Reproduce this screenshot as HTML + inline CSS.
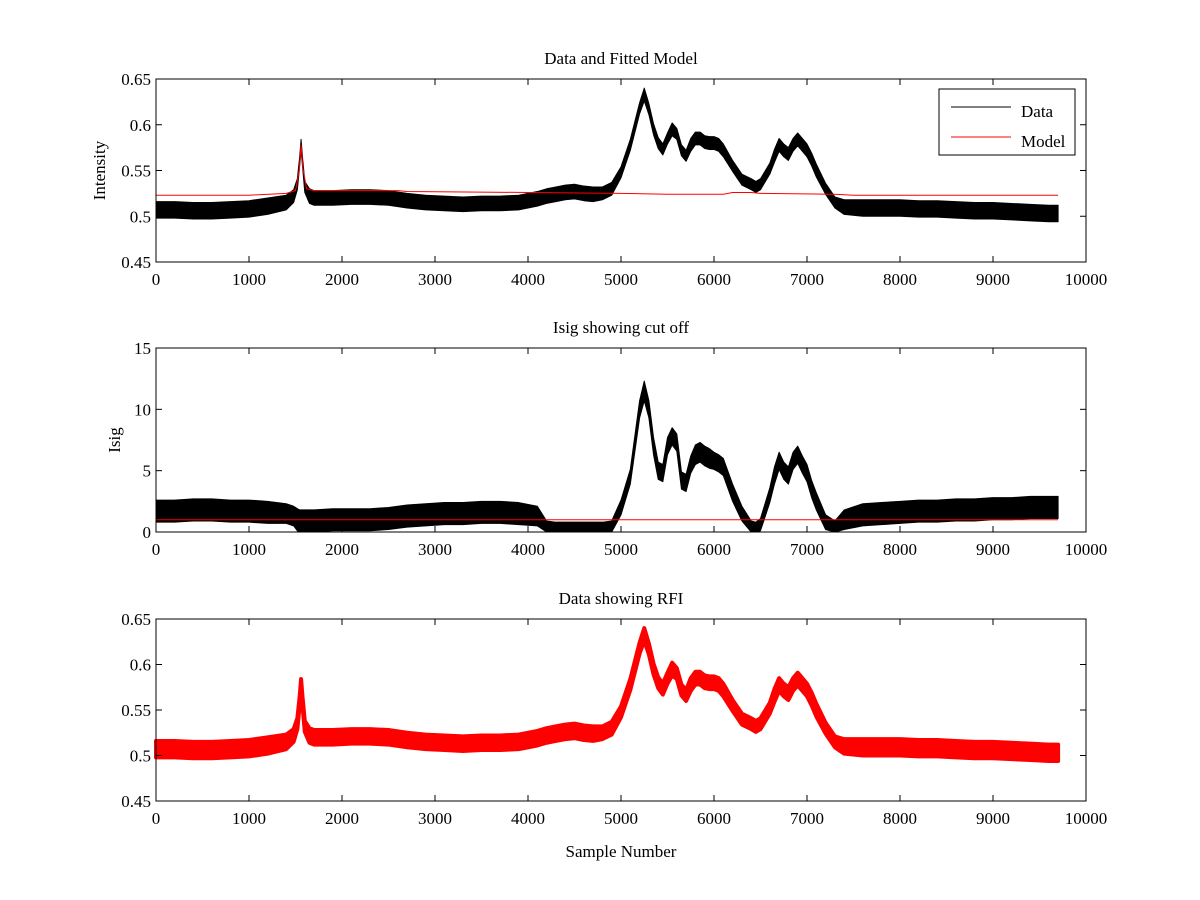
<!DOCTYPE html>
<html><head><meta charset="utf-8"><style>
body{margin:0;background:#fff;}
svg{display:block;font-family:"Liberation Serif",serif;}
</style></head><body>
<svg id="fig" width="1200" height="900"></svg>
<script>
// Data: sample positions, smoothed centre values and noise half-widths
const sampleX = [0,200,400,600,800,1000,1200,1400,1480,1520,1545,1560,1575,1600,1650,1700,1900,2100,2300,2500,2700,2900,3100,3300,3500,3700,3900,4100,4200,4300,4400,4500,4600,4700,4800,4900,5000,5100,5200,5250,5300,5350,5400,5450,5500,5550,5600,5650,5700,5750,5800,5850,5900,5950,6000,6050,6100,6200,6300,6400,6450,6500,6600,6650,6700,6750,6800,6850,6900,6950,7000,7050,7100,7200,7300,7400,7600,7800,8000,8200,8400,8600,8800,9000,9200,9400,9600,9700];
const intensity = [0.507,0.507,0.506,0.506,0.507,0.508,0.511,0.515,0.522,0.535,0.560,0.578,0.560,0.532,0.522,0.520,0.520,0.521,0.521,0.520,0.517,0.515,0.514,0.513,0.514,0.514,0.515,0.519,0.522,0.524,0.526,0.527,0.525,0.524,0.525,0.530,0.548,0.578,0.618,0.633,0.617,0.595,0.580,0.573,0.585,0.595,0.590,0.572,0.566,0.578,0.585,0.585,0.581,0.580,0.580,0.578,0.572,0.555,0.540,0.535,0.532,0.535,0.552,0.566,0.578,0.572,0.568,0.578,0.584,0.578,0.572,0.562,0.550,0.530,0.515,0.510,0.509,0.509,0.509,0.508,0.508,0.507,0.506,0.506,0.505,0.504,0.503,0.503];
const halfWidth = [0.009,0.009,0.009,0.009,0.009,0.009,0.009,0.008,0.007,0.006,0.005,0.006,0.005,0.006,0.008,0.008,0.008,0.008,0.008,0.008,0.008,0.008,0.008,0.008,0.008,0.008,0.008,0.008,0.008,0.008,0.008,0.008,0.008,0.008,0.007,0.007,0.006,0.006,0.006,0.007,0.006,0.006,0.006,0.006,0.006,0.007,0.006,0.006,0.006,0.007,0.007,0.007,0.007,0.007,0.007,0.007,0.007,0.006,0.006,0.006,0.006,0.006,0.006,0.007,0.007,0.007,0.007,0.007,0.007,0.007,0.007,0.007,0.007,0.006,0.006,0.008,0.009,0.009,0.009,0.009,0.009,0.009,0.009,0.009,0.009,0.009,0.009,0.009];
const isig = [1.7,1.7,1.8,1.8,1.7,1.7,1.6,1.5,1.3,1.0,0.9,0.9,0.9,0.9,0.9,0.9,1.0,1.0,1.0,1.1,1.3,1.4,1.5,1.5,1.6,1.6,1.5,1.3,0.4,0.3,0.3,0.3,0.3,0.3,0.3,0.4,2.0,4.5,10.0,11.5,10.0,7.0,5.0,4.8,7.0,7.8,7.3,4.2,4.0,5.5,6.3,6.5,6.2,6.0,5.8,5.6,5.3,3.2,1.5,0.4,0.3,0.6,3.0,4.6,5.8,5.0,4.6,5.8,6.3,5.5,4.8,3.5,2.5,0.8,0.4,1.0,1.4,1.5,1.6,1.7,1.7,1.8,1.8,1.9,1.9,2.0,2.0,2.0];
const isigHalf = [0.9,0.9,0.9,0.9,0.9,0.9,0.9,0.8,0.8,0.9,0.9,0.9,0.9,0.9,0.9,0.9,0.9,0.9,0.9,0.9,0.9,0.9,0.9,0.9,0.9,0.9,0.9,0.8,0.5,0.5,0.5,0.5,0.5,0.5,0.5,0.5,0.6,0.6,0.7,0.8,0.7,0.7,0.7,0.7,0.7,0.7,0.7,0.7,0.7,0.7,0.8,0.8,0.8,0.8,0.7,0.7,0.7,0.7,0.6,0.5,0.5,0.5,0.6,0.7,0.7,0.7,0.7,0.7,0.7,0.7,0.7,0.7,0.7,0.6,0.5,0.8,0.9,0.9,0.9,0.9,0.9,0.9,0.9,0.9,0.9,0.9,0.9,0.9];
const modelX = [0,1000,1400,1500,1540,1560,1580,1620,1700,2600,2700,4000,5000,5500,6100,6200,6400,6500,7300,7500,9700];
const modelY = [0.523,0.523,0.525,0.528,0.550,0.578,0.552,0.530,0.528,0.528,0.527,0.526,0.525,0.524,0.524,0.526,0.526,0.525,0.524,0.523,0.523];
const isigCut = 1.0;
const xTicks = [0,1000,2000,3000,4000,5000,6000,7000,8000,9000,10000];
const yTicks1 = [0.45,0.5,0.55,0.6,0.65];
const yTicksLbl1 = ["0.45","0.5","0.55","0.6","0.65"];
const yTicks2 = [0,5,10,15];

const NS="http://www.w3.org/2000/svg";
const svg=document.getElementById('fig');
function mk(tag,attrs,parent){const e=document.createElementNS(NS,tag);for(const k in attrs)e.setAttribute(k,attrs[k]);(parent||svg).appendChild(e);return e;}
const X0=156,X1=1086;
function xs(v){return X0+(v/10000)*(X1-X0);}

function axes(top,bot,ymin,ymax,ticks,labels,title,ylabel,name){
  const g=mk('g',{});
  
  
  const ys=v=>bot-(v-ymin)/(ymax-ymin)*(bot-top);
  mk('rect',{x:X0,y:top,width:X1-X0,height:bot-top,fill:'#fff',stroke:'none'},g);
  return {g,ys,draw(){
    const fr=mk('rect',{x:X0,y:top,width:X1-X0,height:bot-top,fill:'none',stroke:'#000','stroke-width':1},g);
    
    
    xTicks.forEach(t=>{const x=xs(t);
      mk('line',{x1:x,y1:bot,x2:x,y2:bot-6,stroke:'#000'},g);
      mk('line',{x1:x,y1:top,x2:x,y2:top+6,stroke:'#000'},g);
      const tx=mk('text',{x:x,y:bot+23,'text-anchor':'middle','font-size':17},g);tx.textContent=t;
      
      
    });
    ticks.forEach((t,i)=>{const y=ys(t);
      mk('line',{x1:X0,y1:y,x2:X0+6,y2:y,stroke:'#000'},g);
      mk('line',{x1:X1,y1:y,x2:X1-6,y2:y,stroke:'#000'},g);
      const tx=mk('text',{x:X0-5,y:y+6,'text-anchor':'end','font-size':17},g);tx.textContent=labels[i];
      
      
    });
    const tt=mk('text',{x:(X0+X1)/2,y:top-15,'text-anchor':'middle','font-size':17},g);tt.textContent=title;
    
    
    if(ylabel){const yl=mk('text',{x:0,y:0,'text-anchor':'middle','font-size':17,transform:`translate(${name==='isig-axes'?120:105},${(top+bot)/2}) rotate(-90)`},g);yl.textContent=ylabel;
      
      }
  }};
}
function band(g,ys,xarr,c,h,color,sw,ymin,name){
  let up=[],lo=[];
  xarr.forEach((x,i)=>{let a=c[i]+h[i],b=c[i]-h[i];if(ymin!==undefined){b=Math.max(ymin,b);}up.push(xs(x)+','+ys(a));lo.push(xs(x)+','+ys(b));});
  const p=mk('polygon',{points:up.concat(lo.reverse()).join(' '),fill:color,stroke:color,'stroke-width':sw,'stroke-linejoin':'round'},g);
  
  
}
function line(g,ys,xarr,yarr,color,name){
  const p=mk('polyline',{points:xarr.map((x,i)=>xs(x)+','+ys(yarr[i])).join(' '),fill:'none',stroke:color,'stroke-width':1},g);
  
  
}

// Panel 1
const a1=axes(79,262,0.45,0.65,yTicks1,yTicksLbl1,'Data and Fitted Model','Intensity','intensity-axes');
band(a1.g,a1.ys,sampleX,intensity,halfWidth,'#000',1,undefined,'data-series');
line(a1.g,a1.ys,modelX,modelY,'#f00','model-series');
a1.draw();
// legend
const lg=mk('g',{});


mk('rect',{x:939,y:89,width:136,height:66,fill:'#fff',stroke:'#000'},lg);
mk('line',{x1:951,y1:107,x2:1011,y2:107,stroke:'#000'},lg);
mk('line',{x1:951,y1:137,x2:1011,y2:137,stroke:'#f00'},lg);
const l1=mk('text',{x:1021,y:117,'font-size':17},lg);l1.textContent='Data';


const l2=mk('text',{x:1021,y:147,'font-size':17},lg);l2.textContent='Model';



// Panel 2
const a2=axes(348,532,0,15,yTicks2,yTicks2.map(String),'Isig showing cut off','Isig','isig-axes');
band(a2.g,a2.ys,sampleX,isig,isigHalf,'#000',1,0,'isig-series');
line(a2.g,a2.ys,[0,9700],[isigCut,isigCut],'#f00','cutoff-line');
a2.draw();

// Panel 3
const a3=axes(619,801,0.45,0.65,yTicks1,yTicksLbl1,'Data showing RFI','','rfi-axes');
band(a3.g,a3.ys,sampleX,intensity,halfWidth,'#f00',4,undefined,'rfi-series');
a3.draw();
const xl=mk('text',{x:(X0+X1)/2,y:857,'text-anchor':'middle','font-size':17});xl.textContent='Sample Number';


</script>
</body></html>
